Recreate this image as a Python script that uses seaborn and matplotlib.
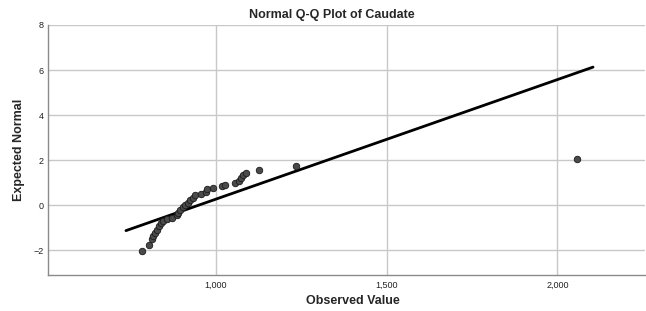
import matplotlib
matplotlib.use("Agg")
import matplotlib.pyplot as plt
import seaborn as sns
import pandas as pd
from matplotlib.ticker import FuncFormatter

observed = [784, 806, 813, 818, 823, 830, 836, 841, 847, 857, 872, 887, 891, 896,
            904, 911, 918, 925, 933, 940, 957, 972, 976, 992, 1018, 1028, 1056,
            1070, 1075, 1081, 1088, 1127, 1235, 2056]
expected = [-2.04, -1.76, -1.52, -1.38, -1.23, -1.08, -0.93, -0.81, -0.70, -0.62,
            -0.56, -0.44, -0.33, -0.22, -0.10, 0.0, 0.10, 0.22, 0.33, 0.43, 0.49,
            0.59, 0.70, 0.77, 0.84, 0.90, 0.98, 1.08, 1.20, 1.32, 1.41, 1.56,
            1.75, 2.04]
line_x = [738, 2104]
line_y = [-1.13, 6.13]
x_ticks = [1000, 1500, 2000]
y_ticks = [-2, 0, 2, 4, 6, 8]
title = "Normal Q-Q Plot of Caudate"
xlabel = "Observed Value"
ylabel = "Expected Normal"

sns.set_theme(style="white")
plt.rcParams['font.family'] = ['Liberation Sans', 'DejaVu Sans']

fig = plt.figure(figsize=(6.46, 3.11), dpi=100)
ax = fig.add_axes([48/646, 1-275/311, 597/646, 250/311])

df_pts = pd.DataFrame({"obs": observed, "exp": expected})
df_line = pd.DataFrame({"x": line_x, "y": line_y})

sns.lineplot(data=df_line, x="x", y="y", ax=ax, color="black", linewidth=2.0, zorder=3)
sns.scatterplot(data=df_pts, x="obs", y="exp", ax=ax, color="#4a4a4a",
                edgecolor="#1a1a1a", linewidth=0.6, s=22, zorder=4)

ax.set_xlim(510, 2256)
ax.set_ylim(-3.1, 8)
ax.set_xticks(x_ticks)
ax.set_yticks(y_ticks)
ax.xaxis.set_major_formatter(FuncFormatter(lambda v, p: f"{int(v):,}"))
ax.grid(True, color="#c8c8c8", linewidth=1.0)
ax.set_axisbelow(True)
for s in ["top", "right"]:
    ax.spines[s].set_visible(False)
for s in ["left", "bottom"]:
    ax.spines[s].set_color("#8a8a8a")
    ax.spines[s].set_linewidth(1.0)
ax.tick_params(axis="both", length=0, labelsize=6.5, colors="#222222")
ax.tick_params(axis="y", pad=3)
ax.tick_params(axis="x", pad=4)

fig.text(331.5/646, 1-15/311, title, fontsize=9, fontweight="bold",
         ha="center", va="center")
ax.set_xlabel(xlabel, fontsize=9, fontweight="bold")
ax.set_ylabel(ylabel, fontsize=9, fontweight="bold")
ax.xaxis.set_label_coords((353 - 48) / 597, -0.104)
ax.yaxis.set_label_coords(-0.048, 0.5)
ax.xaxis.label.set_va("center")
ax.yaxis.label.set_va("center")

fig.savefig("out.png", dpi=100)
